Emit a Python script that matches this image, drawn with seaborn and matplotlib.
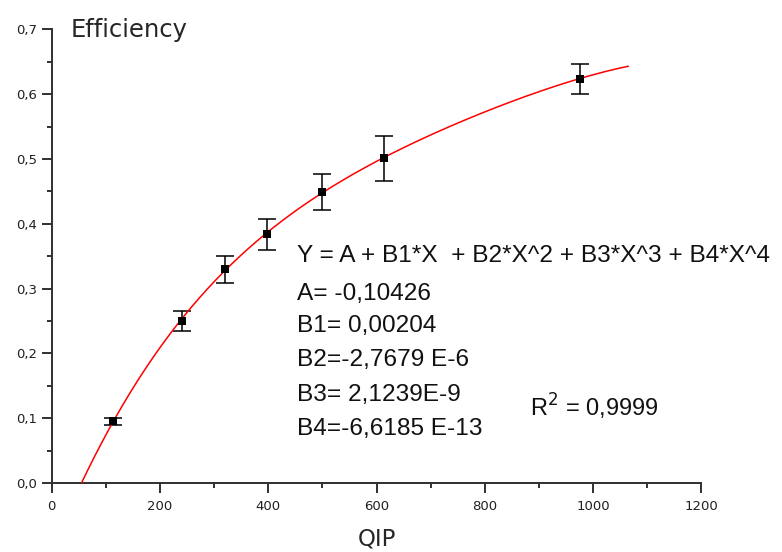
import numpy as np
import pandas as pd
import matplotlib
matplotlib.use('Agg')
import matplotlib.pyplot as plt
import seaborn as sns

# measured points (QIP vs efficiency) with error half-widths
qip = [114, 240, 320, 398, 499, 614, 975]
efficiency = [0.095, 0.250, 0.330, 0.384, 0.449, 0.501, 0.623]
eff_err = [0.006, 0.015, 0.021, 0.024, 0.028, 0.035, 0.023]

# polynomial fit coefficients as printed on the chart (A, B1..B4)
fit_coefs = [-0.10426, 0.00204, -2.7679e-6, 2.1239e-9, -6.6185e-13]
fit_range = [55.3, 1065]

x_ticks = [0, 200, 400, 600, 800, 1000, 1200]
x_ticklabels = ['0', '200', '400', '600', '800', '1000', '1200']
y_ticks = [0.0, 0.1, 0.2, 0.3, 0.4, 0.5, 0.6, 0.7]
y_ticklabels = ['0,0', '0,1', '0,2', '0,3', '0,4', '0,5', '0,6', '0,7']

eq_lines = [
    'Y = A + B1*X  + B2*X^2 + B3*X^3 + B4*X^4',
    'A= -0,10426',
    'B1= 0,00204',
    'B2=-2,7679 E-6',
    'B3= 2,1239E-9',
    'B4=-6,6185 E-13',
]
r2_text = 'R$^2$ = 0,9999'

sns.set_style('ticks')
plt.rcParams['font.family'] = ['DejaVu Sans']

W, H = 782, 552
fig = plt.figure(figsize=(W / 100, H / 100), dpi=100)
ax = fig.add_axes([51.7 / W, 1 - 483 / H, 649.8 / W, 453.7 / H])

# fit curve
fit_x = np.linspace(fit_range[0], fit_range[1], 400)
fit_y = np.polynomial.polynomial.polyval(fit_x, fit_coefs)
fit_df = pd.DataFrame({'QIP': fit_x, 'Efficiency': fit_y})
sns.lineplot(data=fit_df, x='QIP', y='Efficiency', ax=ax, color='red', linewidth=1.1, zorder=3)

# points with error bars
pts = pd.DataFrame({'QIP': qip, 'Efficiency': efficiency, 'err': eff_err})
ax.errorbar(pts['QIP'], pts['Efficiency'], yerr=pts['err'], fmt='none',
            ecolor='black', elinewidth=1.1, capsize=6.8, capthick=1.1, zorder=2)
sns.scatterplot(data=pts, x='QIP', y='Efficiency', ax=ax, marker='s', s=34,
                color='black', edgecolor='black', linewidth=0, zorder=4)

ax.set_xlim(0, 1200)
ax.set_ylim(0, 0.7)
ax.set_xticks(x_ticks)
ax.set_xticklabels(x_ticklabels)
ax.set_yticks(y_ticks)
ax.set_yticklabels(y_ticklabels)
ax.set_xticks(np.arange(100, 1200, 200), minor=True)
ax.set_yticks(np.arange(0.05, 0.7, 0.1), minor=True)

for side in ['top', 'right']:
    ax.spines[side].set_visible(False)
for side in ['left', 'bottom']:
    ax.spines[side].set_linewidth(1.4)
    ax.spines[side].set_color('#303030')

ax.tick_params(axis='both', which='major', direction='out', length=7, width=1.4,
               color='#303030', labelsize=9.5, labelcolor='#202020')
ax.tick_params(axis='both', which='minor', direction='out', length=3.6, width=1.4,
               color='#303030')
ax.tick_params(axis='y', which='major', pad=3.5)
ax.tick_params(axis='x', which='major', pad=5)

ax.set_xlabel('QIP', fontsize=16.5, va='top')
ax.xaxis.set_label_coords(0.5, -0.098)
ax.set_ylabel('Efficiency', fontsize=17.5, rotation=0, ha='left', va='baseline')
ax.yaxis.set_label_coords(0.0297, 0.9837)

# equation block
baselines = [261.7, 300, 332, 366, 401, 435]
for line, yb in zip(eq_lines, baselines):
    fig.text(297 / W, 1 - yb / H, line, fontsize=17.6, family='Liberation Sans',
             va='baseline', ha='left', color='#111111')
fig.text(530 / W, 1 - 417 / H, r2_text, fontsize=17, family='Liberation Sans',
         va='baseline', ha='left', color='#111111')

fig.savefig('out.png', dpi=100)
